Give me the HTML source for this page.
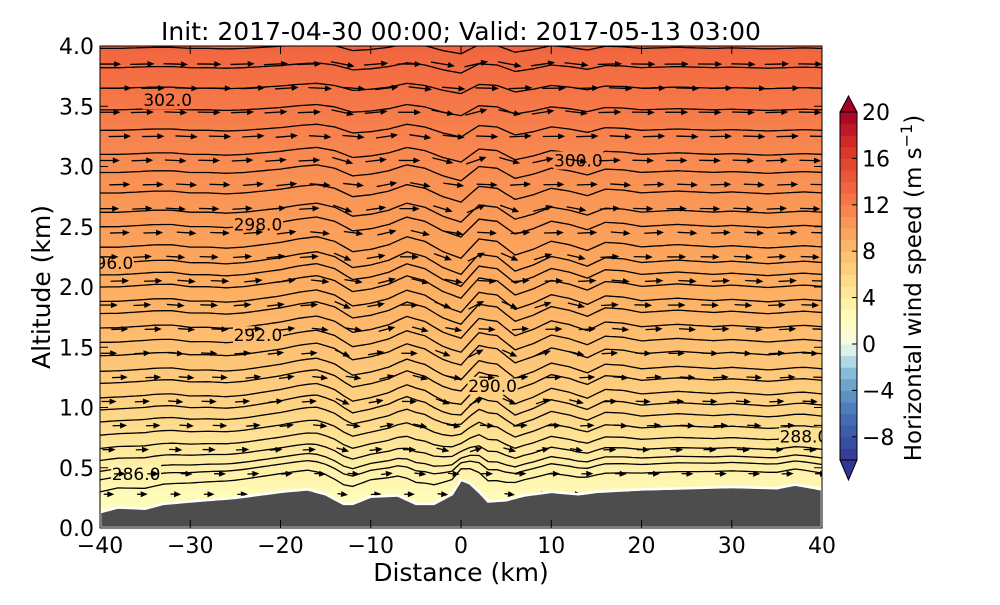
<!DOCTYPE html>
<html><head><meta charset="utf-8"><style>
body{margin:0;background:#fff;width:1000px;height:600px;overflow:hidden}
svg text{font-family:"DejaVu Sans","Liberation Sans",sans-serif}
</style></head><body>
<svg id="chart" width="1000" height="600" viewBox="0 0 1000 600" xmlns="http://www.w3.org/2000/svg">
<defs><clipPath id="pc"><rect x="100" y="46" width="722" height="482"/></clipPath></defs>
<g id="plot" clip-path="url(#pc)"></g>
<g id="axes"></g>
<g id="cbar"></g>
</svg>
<script>
// ---- data ----
const xTicks=[-40,-30,-20,-10,0,10,20,30,40];
const yTicks=[0.0,0.5,1.0,1.5,2.0,2.5,3.0,3.5,4.0];
const cbTicks=[-8,-4,0,4,8,12,16,20];
const terrainX=[-40,-38,-35,-33,-30,-25,-20,-17,-15,-13,-12,-10,-7,-5,-3,-1,0,1,2,3,5,7,10,13,15,20,25,30,35,37,40];
const terrainH=[0.13,0.17,0.16,0.2,0.22,0.25,0.3,0.32,0.28,0.2,0.2,0.26,0.27,0.2,0.2,0.28,0.4,0.37,0.3,0.22,0.23,0.27,0.3,0.28,0.3,0.32,0.33,0.34,0.33,0.36,0.32];
const waveX=[-40,-38,-36,-34,-32,-30,-28,-26,-24,-22,-20,-18,-16,-14,-12,-10,-8,-6,-4,-2,0,2,4,6,8,10,12,14,16,18,20,22,24,26,28,30,32,34,36,38,40];
const waveH=[0,0,0.01,0.02,0.02,0,0,-0.01,0,0.02,0.04,0.07,0.09,0.05,-0.04,-0.02,0.02,0.09,0.05,-0.04,-0.1,0.07,0.05,-0.07,-0.02,0.05,0.02,-0.03,0.04,0.03,0,0.01,0.02,0.01,0,0.01,0,-0.01,0,0.01,0];
const lineBase=[0.3,0.4,0.47,0.56,0.66,0.77,0.88,0.98,1.08,1.2,1.3,1.43,1.54,1.66,1.78,1.88,2.0,2.1,2.2,2.33,2.5,2.62,2.78,2.95,3.1,3.3,3.47,3.65,3.82,3.98];
const labelText=["286.0","288.0","290.0","292.0","296.0","298.0","300.0","302.0"];
const labelXs=[-36,38,3.5,-22.5,-39,-22.5,13,-32.5];
const labelYs=[0.45,0.76,1.18,1.6,2.2,2.52,3.05,3.55];
const rowH=[0.28,0.45,0.65,0.85,1.05,1.25,1.45,1.65,1.85,2.05,2.25,2.45,2.65,2.85,3.05,3.25,3.45,3.65,3.85];
const rowSpeed=[2,3,4,5,5.5,6,6.5,7,7.5,8,8.5,9,9.5,10,10.5,11,11.5,12,12.5];
// ---- helpers ----
const NS="http://www.w3.org/2000/svg";
const X=v=>100+(v+40)*722/80, Y=v=>528-v*482/4;
function interp(xs,ys,x){if(x<=xs[0])return ys[0];for(let i=1;i<xs.length;i++)if(x<=xs[i]){const t=(x-xs[i-1])/(xs[i]-xs[i-1]);return ys[i-1]+t*(ys[i]-ys[i-1]);}return ys[ys.length-1];}
const cStops=[-10,-6,-3,-1,0,2,5,9,13,17,20];
const cCols=["#313695","#4575b4","#74add1","#c6e6f0","#f3f9e6","#ffffbf","#fee090","#fdae61","#f46d43","#d73027","#a50026"];
function hex(h){return [1,3,5].map(i=>parseInt(h.substr(i,2),16));}
function cmap(v){v=Math.max(-10,Math.min(20,v));for(let i=1;i<cStops.length;i++)if(v<=cStops[i]){const t=(v-cStops[i-1])/(cStops[i]-cStops[i-1]);const a=hex(cCols[i-1]),b=hex(cCols[i]);return "rgb("+a.map((c,k)=>Math.round(c+t*(b[k]-c))).join(",")+")";}return cCols[cCols.length-1];}
function mk(tag,attrs,parent,name,txt){const e=document.createElementNS(NS,tag);for(const k in attrs)e.setAttribute(k,attrs[k]);


if(txt!==undefined)e.textContent=txt;parent.appendChild(e);return e;}
const plot=document.getElementById('plot'),axes=document.getElementById('axes'),cb=document.getElementById('cbar');
const spdH=[0,0.3,1,2,3,4];const spdV=[1.5,2.5,6,9,11,13.5];
for(let h=0;h<4.0;h+=0.05){mk('rect',{x:100,y:Y(h+0.05)-0.5,width:722,height:482/80+1,fill:cmap(interp(spdH,spdV,h+0.025))},plot,'speed-band');}
function amp(b){return Math.min(1,b/1.0)*(b>2.2?Math.max(0.45,1-(b-2.2)*0.4):1);}
lineBase.forEach((b,i)=>{let d="";for(let x=-40;x<=40;x+=0.5){const t=interp(terrainX,terrainH,x);const h=b+(t-0.13)*Math.exp(-(b-0.2)/0.5)+interp(waveX,waveH,x)*amp(b);d+=(d?"L":"M")+X(x).toFixed(1)+","+Y(h).toFixed(1);}
mk('path',{d:d,fill:'none',stroke:'#000','stroke-width':1.3},plot,'isentrope-line');});
labelText.forEach((s,i)=>{const w=s.length*10;mk('rect',{x:X(labelXs[i])-w/2,y:Y(labelYs[i])-9,width:w,height:18,fill:cmap(interp(spdH,spdV,labelYs[i]))},plot,'contour-label-bg');mk('text',{x:X(labelXs[i]),y:Y(labelYs[i])+6,'font-size':17,'text-anchor':'middle'},plot,'contour-label',s);});
rowH.forEach((h,r)=>{for(let x=-39+(r%2)*1.2;x<40;x+=3.7){const sl=(interp(waveX,waveH,x+1)-interp(waveX,waveH,x-1))/2*amp(h);const len=8+rowSpeed[r]*1.3;const ang=Math.atan2(-sl*120*1.5,9.025*2);const x0=X(x),y0=Y(h);
const g=mk('g',{transform:`translate(${x0},${y0}) rotate(${ang*180/Math.PI})`},plot,'wind-arrow');
mk('line',{x1:-len/2,y1:0,x2:len/2-5,y2:0,stroke:'#000','stroke-width':1.3},g,'arrow-shaft');
mk('polygon',{points:`${len/2},0 ${len/2-7},-3 ${len/2-7},3`,fill:'#000'},g,'arrow-head');}});
let td="M100,528";for(let x=-40;x<=40;x+=0.5)td+="L"+X(x).toFixed(1)+","+Y(interp(terrainX,terrainH,x)).toFixed(1);td+="L822,528Z";
mk('path',{d:td,fill:'#4d4d4d',stroke:'#fff','stroke-width':2.5},plot,'terrain');
mk('rect',{x:100,y:46,width:722,height:482,fill:'none',stroke:'#000','stroke-width':1},axes,'plot-frame');
xTicks.forEach(v=>{mk('line',{x1:X(v),y1:528,x2:X(v),y2:520,stroke:'#000'},axes,'x-tick');mk('line',{x1:X(v),y1:46,x2:X(v),y2:54,stroke:'#000'},axes,'x-tick-top');mk('text',{x:X(v),y:553,'font-size':22,'text-anchor':'middle'},axes,'x-tick-label',(v<0?"\u2212"+(-v):v));});
yTicks.forEach(v=>{mk('line',{x1:100,y1:Y(v),x2:108,y2:Y(v),stroke:'#000'},axes,'y-tick');mk('line',{x1:822,y1:Y(v),x2:814,y2:Y(v),stroke:'#000'},axes,'y-tick-right');mk('text',{x:94,y:Y(v)+8,'font-size':22,'text-anchor':'end'},axes,'y-tick-label',v.toFixed(1));});
mk('text',{x:461,y:581,'font-size':25,'text-anchor':'middle'},axes,'x-axis-title','Distance (km)');
mk('text',{x:0,y:0,'font-size':25,'text-anchor':'middle',transform:'translate(50,287) rotate(-90)'},axes,'y-axis-title','Altitude (km)');
mk('text',{x:461,y:40,'font-size':25,'text-anchor':'middle'},axes,'chart-title','Init: 2017-04-30 00:00; Valid: 2017-05-13 03:00');
const cy=v=>344-v*46.4/4;
for(let v=-10;v<20;v++){mk('rect',{x:840,y:cy(v+1),width:17,height:46.4/4+0.5,fill:cmap(v+0.5)},cb,'colorbar-segment');}
mk('polygon',{points:`840,${cy(20)} 857,${cy(20)} 848.5,96`,fill:cmap(20),stroke:'#000'},cb,'colorbar-extend-max');
mk('polygon',{points:`840,${cy(-10)} 857,${cy(-10)} 848.5,480`,fill:cmap(-10),stroke:'#000'},cb,'colorbar-extend-min');
mk('rect',{x:840,y:cy(20),width:17,height:cy(-10)-cy(20),fill:'none',stroke:'#000'},cb,'colorbar-frame');
cbTicks.forEach(v=>{mk('line',{x1:852,y1:cy(v),x2:857,y2:cy(v),stroke:'#000'},cb,'colorbar-tick');mk('text',{x:862,y:cy(v)+8,'font-size':22},cb,'colorbar-tick-label',(v<0?"\u2212"+(-v):v));});
const ct=mk('text',{x:0,y:0,'font-size':23,'text-anchor':'middle',transform:'translate(921,288) rotate(-90)'},cb,'colorbar-title','Horizontal wind speed (m s');
mk('tspan',{dy:-9,'font-size':16},ct,'superscript','\u22121');mk('tspan',{dy:9},ct,'paren',')');
</script>
</body></html>
